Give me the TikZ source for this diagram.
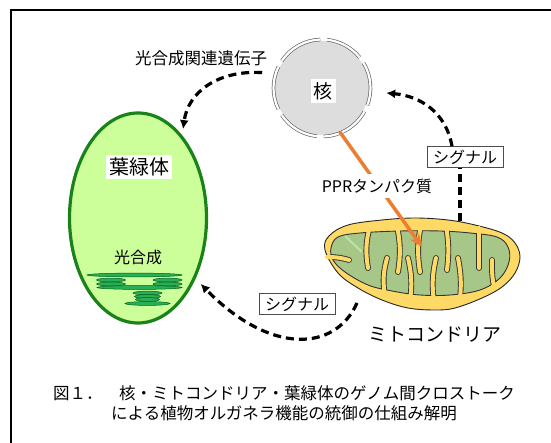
\documentclass[tikz,border=0pt]{standalone}
\usepackage{fontspec}
\setmainfont{Noto Sans CJK JP}
\usetikzlibrary{arrows.meta,shapes.geometric}

\definecolor{leafgreen}{RGB}{204,255,153}
\definecolor{chlborder}{RGB}{25,130,25}
\definecolor{granfill}{RGB}{40,175,85}
\definecolor{grandraw}{RGB}{0,95,30}
\definecolor{nucgray}{RGB}{221,221,221}
\definecolor{mitoyellow}{RGB}{255,217,102}
\definecolor{cristagreen}{RGB}{166,199,136}
\definecolor{palegreen}{RGB}{190,228,170}
\definecolor{pprorange}{RGB}{237,125,49}

\tikzset{
  sig/.style={line width=3.2pt,dash pattern=on 8pt off 5pt,-{Latex[length=9pt,width=9pt]}},
  sigline/.style={line width=3.2pt,dash pattern=on 8pt off 5pt},
  sigbox/.style={draw=black!70,fill=white,line width=0.9pt,inner xsep=6pt,inner ysep=3pt,font=\fontsize{16}{16}\selectfont},
  tag/.style={fill=white,inner sep=3pt},
  granum/.style={draw=grandraw,fill=granfill,line width=0.5pt},
  nucring/.style={draw=black!60,line width=0.7pt,double=white,double distance=2.2pt}
}

% one lens-shaped thylakoid: centre x, centre y, half length
\newcommand\DrawGranum[3]{%
  \draw[granum] (#1,-#2) ellipse[x radius=#3pt,y radius=1.9pt];%
}

% inner membrane of the mitochondrion
\def\InnerMembrane{plot[smooth cycle,tension=0.6] coordinates {
    (331,-248) (338,-237) (360,-233) (400,-231) (440,-231) (470,-233)
    (497,-237) (508,-247) (509,-262) (500,-278) (480,-290) (450,-295)
    (420,-295) (392,-291) (368,-285) (345,-272) (333,-260)}}

% the cristae: base x/y, tip x/y, bend
\def\CristaList{370/226/368/268/-12,397/226/398/272/10,421/225/420/272/-10,
  446/226/447/270/8,479/228/479/268/0,385/296/387/258/12,410/301/408/258/-10,
  434/302/436/258/10,460/299/458/258/-8,494/287/492/260/6,327/257/349/260/8}

\begin{document}
\begin{tikzpicture}[x=1pt,y=1pt]
	\useasboundingbox (0,0) rectangle (551,-443);

	% frame
	\draw[line width=2pt] (11,-480) -- (11,-10) -- (600,-10);

	% chloroplast
	\node[ellipse,draw=chlborder,fill=leafgreen,line width=3.2pt,
	  minimum width=137pt,minimum height=210pt] (chl) at (138,-218) {};
	\node[tag,font=\fontsize{20}{20}\selectfont] (chlname) at (139,-167) {葉緑体};
	\node[font=\fontsize{16}{16}\selectfont] (photo) at (138,-257) {光合成};

	% the grana
	\DrawGranum{134.5}{275}{47.5}
	\foreach \X in {111,167.5}{
	  \foreach \Y in {280,284}{
	    \DrawGranum{\X}{\Y}{14.5}
	  }
	}
	\DrawGranum{139.5}{287.5}{42.5}
	\foreach \Y/\R in {293/14.5,296.5/13,299.5/12}{
	  \DrawGranum{147.5}{\Y}{\R}
	}
	\DrawGranum{147.5}{303.5}{22.5}

	% nucleus
	\node[circle,fill=nucgray,minimum size=94pt,inner sep=0pt] (nuc) at (322,-88) {};
	\foreach \A/\B in {39/84,92/146,154/206,214/264,272/331,339/391}
	  \draw[nucring] (nuc.center) ++(\A:48.5pt) arc[start angle=\A,end angle=\B,radius=48.5pt];
	\node[tag,font=\fontsize{19}{19}\selectfont] (nucname) at (323,-91) {核};

	% mitochondrion: outer membrane
	\filldraw[fill=mitoyellow,draw=black!85,line width=0.9pt]
	  plot[smooth cycle,tension=0.6] coordinates {
	    (325,-250) (329,-236) (348,-225) (382,-220) (415,-218) (448,-220)
	    (475,-225) (502,-233) (515,-243) (520,-257) (515,-273) (502,-287)
	    (482,-298) (455,-308) (435,-310) (408,-308) (382,-300) (358,-288)
	    (338,-273)};
	\filldraw[fill=cristagreen,draw=black!80,line width=0.9pt] \InnerMembrane;
	\draw[palegreen,line width=2pt] (345,-236) -- (362,-252);

	% the cristae, pushed in from the top and from the bottom
	\begin{scope}
	  \clip \InnerMembrane;
	  \foreach \Bx/\By/\Tx/\Ty/\Bend in \CristaList
	    \draw[black!80,line width=5.8pt,line cap=round] (\Bx,-\By) to[bend left=\Bend] (\Tx,-\Ty);
	\end{scope}
	\foreach \Bx/\By/\Tx/\Ty/\Bend in \CristaList
	  \draw[mitoyellow,line width=4pt,line cap=round] (\Bx,-\By) to[bend left=\Bend] (\Tx,-\Ty);
	\node[font=\fontsize{19}{19}\selectfont] (mitoname) at (435,-335) {ミトコンドリア};

	% coordinates on the mitochondrion
	\coordinate (mitotop) at (460,-221);
	\coordinate (mitolow) at (357,-303);
	\coordinate (mitoin) at (422,-247);

	% PPR protein from the nucleus into the mitochondrion
	\draw[pprorange,line width=3.5pt,-{Stealth[length=13pt,width=11pt]}] (nuc.-68) -- (mitoin);
	\node[fill=white,inner xsep=2pt,inner ysep=5pt,font=\fontsize{16}{16}\selectfont] (ppr) at (377,-186) {PPRタンパク質};

	% gene expression towards the chloroplast
	\node[font=\fontsize{16.5}{16.5}\selectfont] (genes) at (201,-58) {光合成関連遺伝子};
	\draw[sig] ([shift={(-14,4)}]nuc.166) .. controls (218,-70) and (188,-92) .. ([shift={(1,6)}]chl.62);

	% retrograde signals
	\node[sigbox] (sigup) at (465,-157) {シグナル};
	\draw[sigline] (mitotop) -- (mitotop |- sigup.south);
	\draw[sig] ([xshift=-13pt]sigup.north) .. controls (446,-112) and (420,-96) .. ([shift={(17,-5)}]nuc.east);

	\node[sigbox] (sigdown) at (297,-304) {シグナル};
	\draw[sig] (mitolow) .. controls (335,-352) and (270,-355) .. ([shift={(6,-3)}]chl.-48);

	% caption
	\node[align=center,font=\fontsize{16.5}{20}\selectfont] (caption) at (284,-403)
	  {図１．　核・ミトコンドリア・葉緑体のゲノム間クロストーク\\による植物オルガネラ機能の統御の仕組み解明};
\end{tikzpicture}
\end{document}
